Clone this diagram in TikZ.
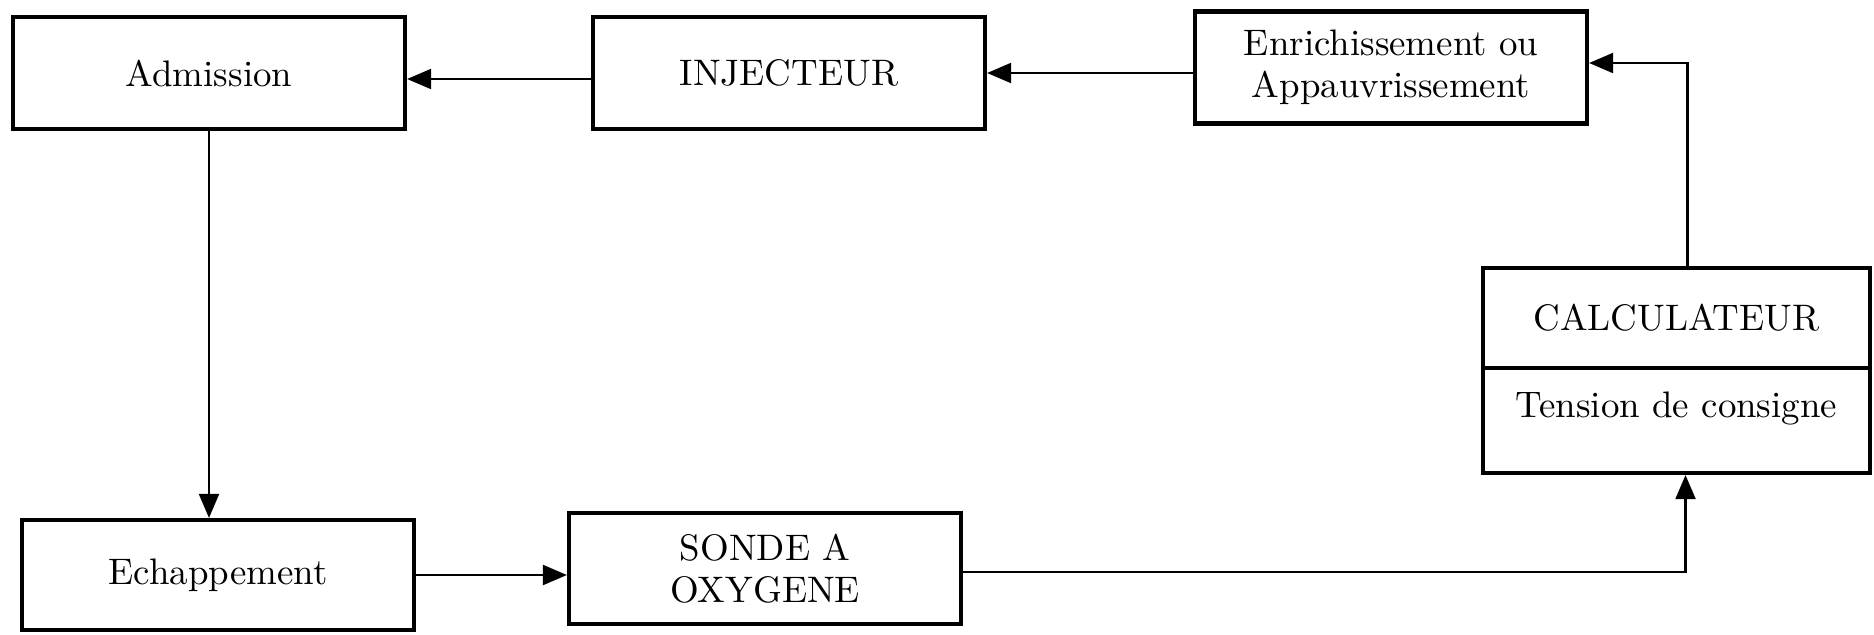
\documentclass[tikz,border=0pt]{standalone}
\usepackage{tikz}
\usetikzlibrary{arrows.meta, positioning, calc}

\begin{document}
\begin{tikzpicture}[
        node distance=5.8cm,
        box/.style={draw, line width=1.2pt, align=center, minimum width=3.92cm, minimum height=1.12cm, inner sep=2pt, font=\fontsize{10.5}{12}\selectfont},
        arrow/.style={-{Triangle[length=2.4mm, width=2mm]}, line width=0.6pt}
    ]
        \useasboundingbox (0,0) rectangle (18.74,6.34);

        \node[box] (adm) at (2.09,5.61) {Admission};
        \node[box, right of=adm] (inj) {INJECTEUR};
        \node[box, right of=inj, xshift=0.22cm, yshift=0.055cm] (enr) {Enrichissement ou\\Appauvrissement};
        \node[box, minimum width=3.87cm, minimum height=1.0cm] (calc) at (16.765,3.16) {CALCULATEUR};
        \node[box, minimum width=3.87cm, minimum height=1.05cm, text depth=0.31cm, below=-1.2pt of calc] (cons) {Tension de consigne};
        \node[box, minimum height=1.1cm] (ech) at (2.18,0.59) {Echappement};
        \node[box, minimum height=1.11cm] (sonde) at (7.65,0.655) {SONDE A\\OXYGENE};

        \draw[arrow] ([yshift=-0.06cm]inj.west) -- ([yshift=-0.06cm]adm.east);
        \draw[arrow] (inj.east -| enr.west) -- (inj.east);
        \draw[arrow] ([xshift=0.11cm]calc.north) |- ([yshift=0.045cm]enr.east);
        \draw[arrow] (adm.south) -- (adm.south |- ech.north);
        \draw[arrow] (ech.east) -- (ech.east -| sonde.west);
        \draw[arrow] ([yshift=-0.035cm]sonde.east) -| ([xshift=0.09cm]cons.south);
    \end{tikzpicture}
\end{document}
